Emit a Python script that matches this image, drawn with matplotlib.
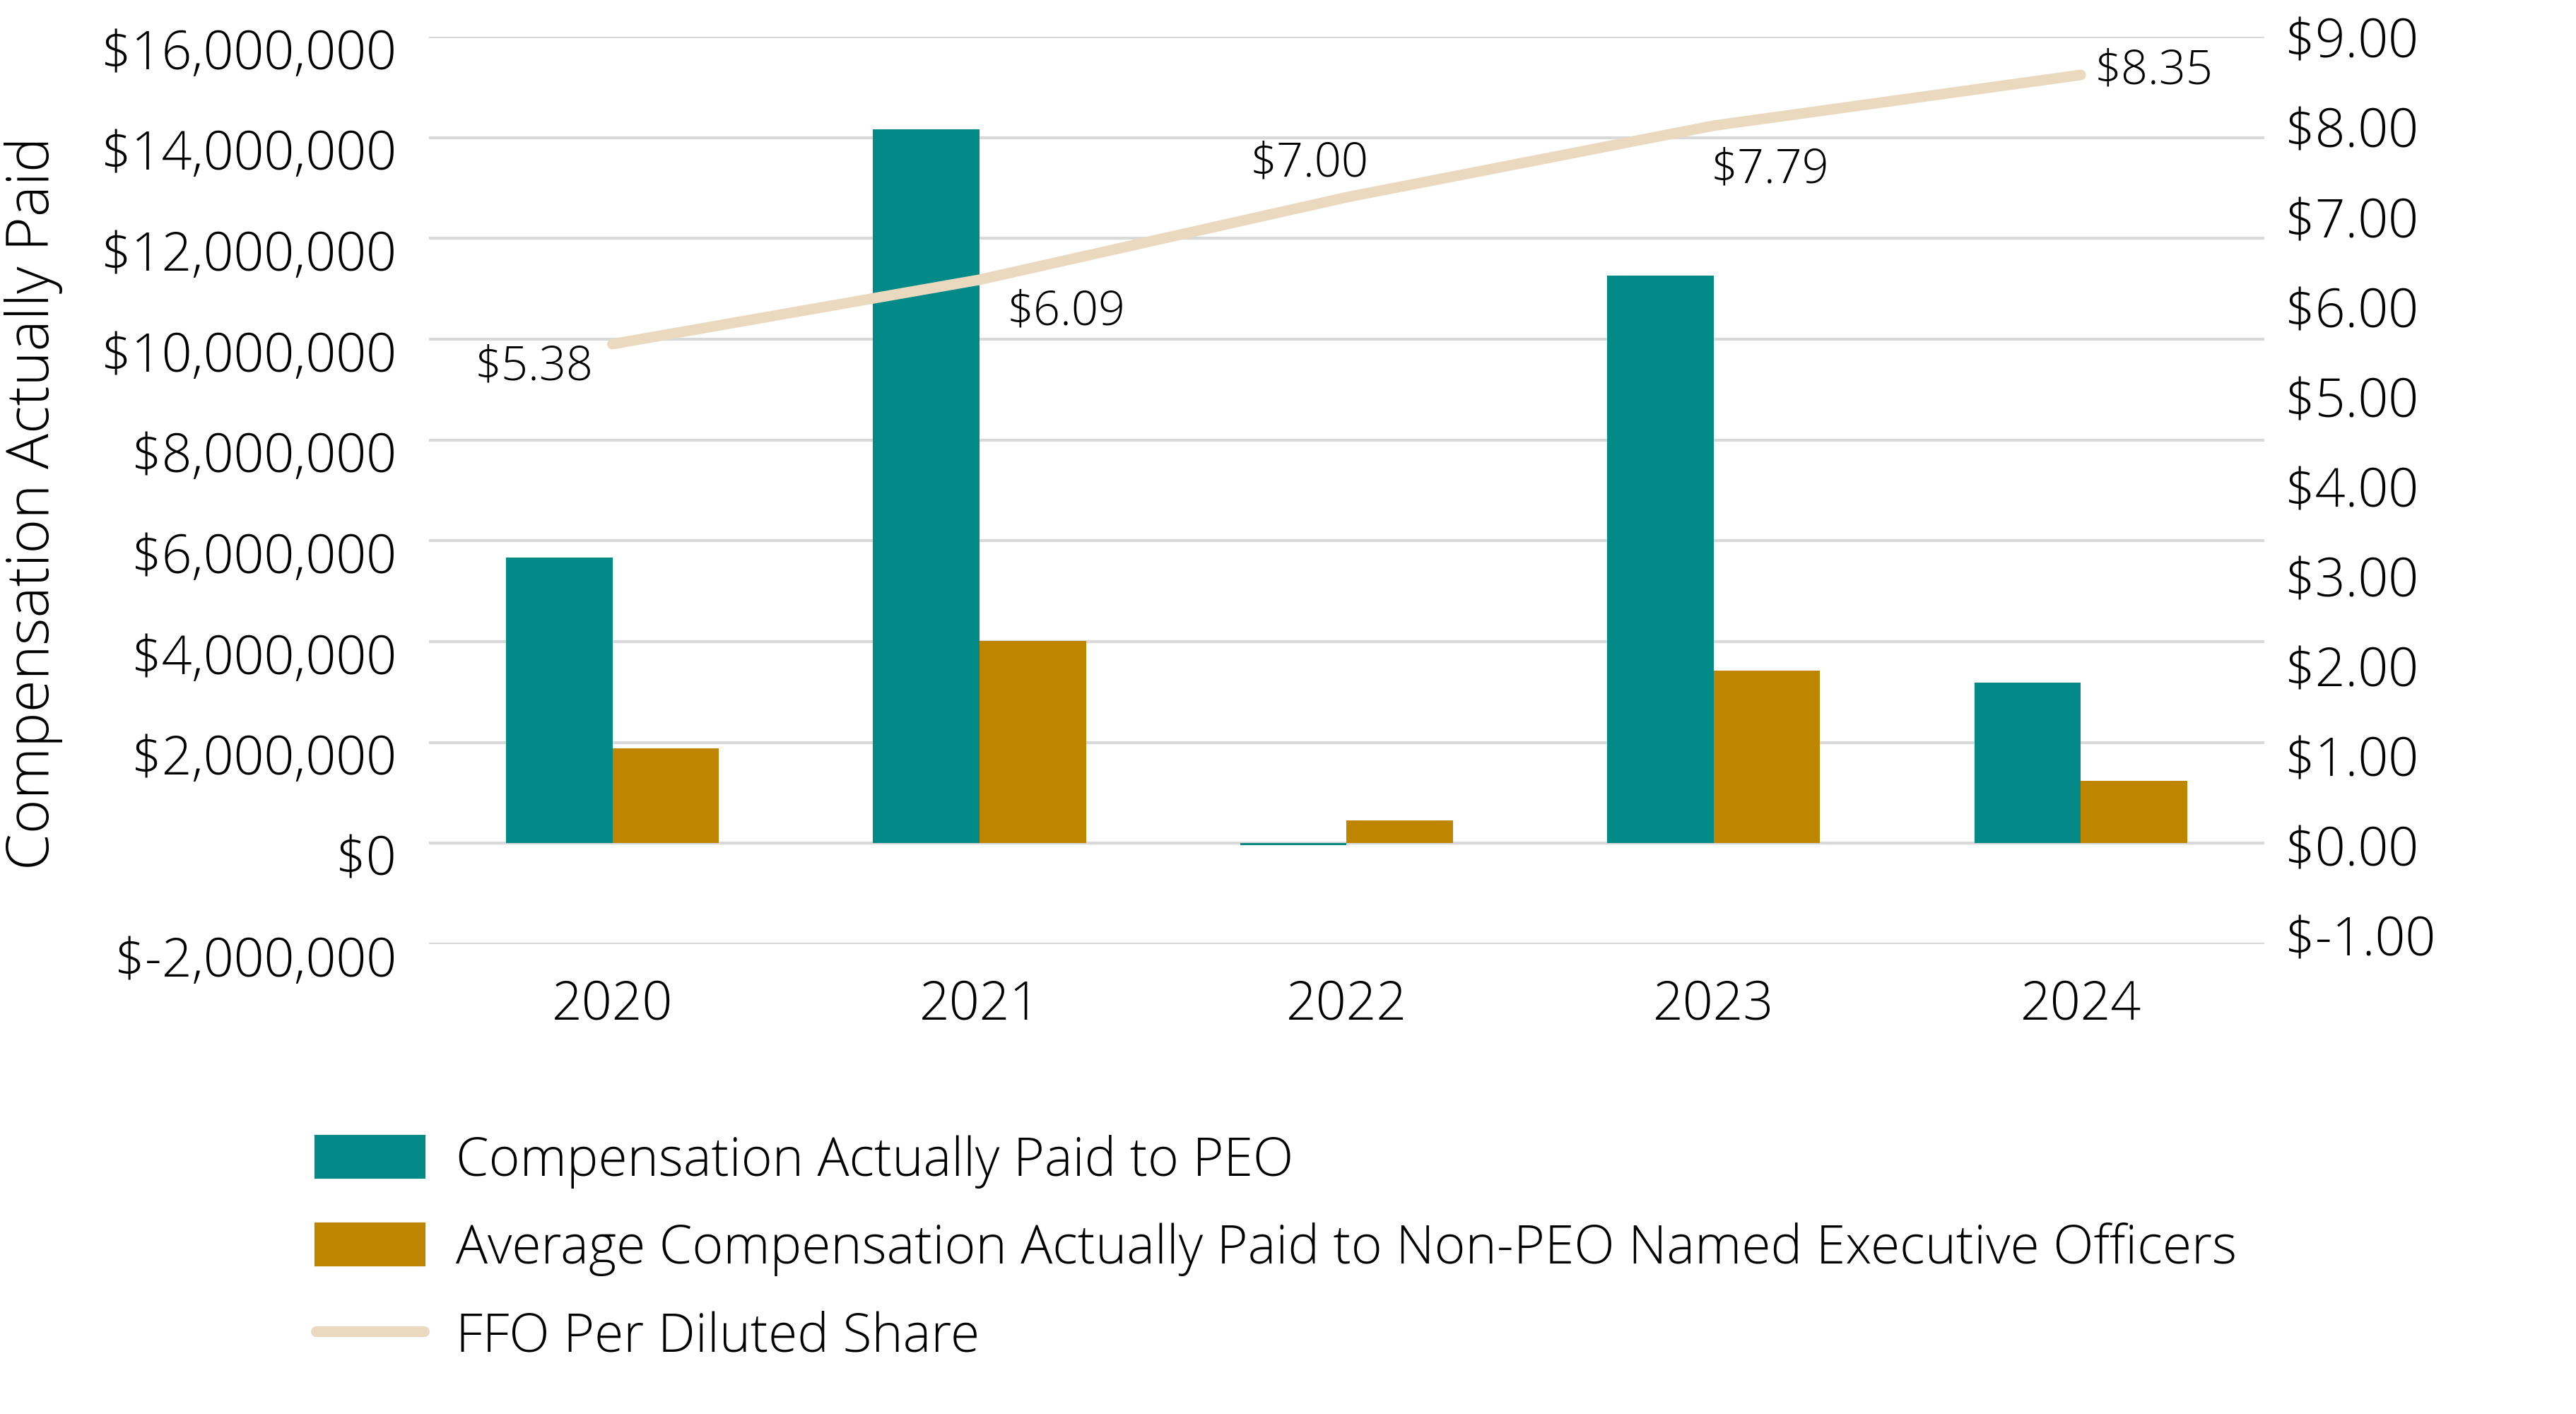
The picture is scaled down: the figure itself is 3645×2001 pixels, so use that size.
import numpy as np
import matplotlib.pyplot as plt
from matplotlib.patches import Patch
from matplotlib.lines import Line2D
from matplotlib.ticker import FuncFormatter
from matplotlib.transforms import ScaledTranslation

plt.rcParams['font.family'] = ['Open Sans', 'DejaVu Sans']
plt.rcParams['font.weight'] = 'light'

# data
years = ['2020', '2021', '2022', '2023', '2024']
cap_peo = [5670000, 14170000, -40000, 11270000, 3190000]
cap_neo = [1890000, 4010000, 460000, 3420000, 1240000]
ffo = [5.38, 6.09, 7.00, 7.79, 8.35]
ffo_labels = ['$5.38', '$6.09', '$7.00', '$7.79', '$8.35']

teal = '#018A87'
gold = '#BD8500'
tan = '#EAD9BE'
grid_c = '#D9D9D9'

fig = plt.figure(figsize=(12.15, 6.673), dpi=300)
ax = fig.add_axes([0.1665, 0.3322, 0.7125, 0.6413])

x = np.arange(len(years))
w = 0.29
ax.bar(x - w / 2, cap_peo, w, color=teal, zorder=2)
ax.bar(x + w / 2, cap_neo, w, color=gold, zorder=2)

ax.set_xlim(-0.5, 4.5)
ax.set_ylim(-2000000, 16000000)
ax.set_yticks(np.arange(-2000000, 16000001, 2000000))
ax.yaxis.set_major_formatter(FuncFormatter(lambda v, p: '$' + format(int(v), ',')))
ax.set_xticks(x)
ax.set_xticklabels(years)
ax.grid(axis='y', color=grid_c, linewidth=1.0, zorder=0)
ax.set_axisbelow(True)
for s in ax.spines.values():
    s.set_visible(False)
ax.tick_params(axis='y', length=0, pad=11, labelsize=18)
ax.tick_params(axis='x', length=0, pad=11.5, labelsize=18)
# left labels sit a little below their gridlines in the original
shift = ScaledTranslation(0, -0.053, fig.dpi_scale_trans)
for lab in ax.get_yticklabels():
    lab.set_transform(lab.get_transform() + shift)

fig.text(0.0129, 0.6444, 'Compensation Actually Paid', rotation=90,
         ha='center', va='center', fontsize=20)

# right axis (labels only)
ax2 = ax.twinx()
ax2.set_ylim(-1.10, 8.93)
ax2.set_yticks(np.arange(-1, 10, 1))
ax2.yaxis.set_major_formatter(FuncFormatter(lambda v, p: '$%.2f' % v))
ax2.tick_params(axis='y', length=0, pad=7, labelsize=18)
for s in ax2.spines.values():
    s.set_visible(False)

# line axis
ax3 = ax.twinx()
ax3.set_ylim(-1.24, 8.77)
ax3.axis('off')
ax3.plot(x, ffo, color=tan, linewidth=3.6, solid_capstyle='round', solid_joinstyle='round', zorder=3)
offsets = [(-26.6, -7.9), (29.5, -10.8), (-12.7, 11.5), (19.2, -14.9), (24.7, 1.4)]
for xi, v, lab, off in zip(x, ffo, ffo_labels, offsets):
    ax3.annotate(lab, (xi, v), xytext=off, textcoords='offset points',
                 ha='center', va='center', fontsize=16)

handles = [Patch(color=teal), Patch(color=gold),
           Line2D([0], [0], color=tan, linewidth=3.6, solid_capstyle='round')]
labels = ['Compensation Actually Paid to PEO',
          'Average Compensation Actually Paid to Non-PEO Named Executive Officers',
          'FFO Per Diluted Share']
fig.legend(handles, labels, loc='upper left', bbox_to_anchor=(0.1225, 0.198),
           frameon=False, fontsize=18, handlelength=2.05, handleheight=0.81,
           handletextpad=0.59, labelspacing=0.65, borderaxespad=0, borderpad=0)

fig.savefig('out.png', dpi=300)
